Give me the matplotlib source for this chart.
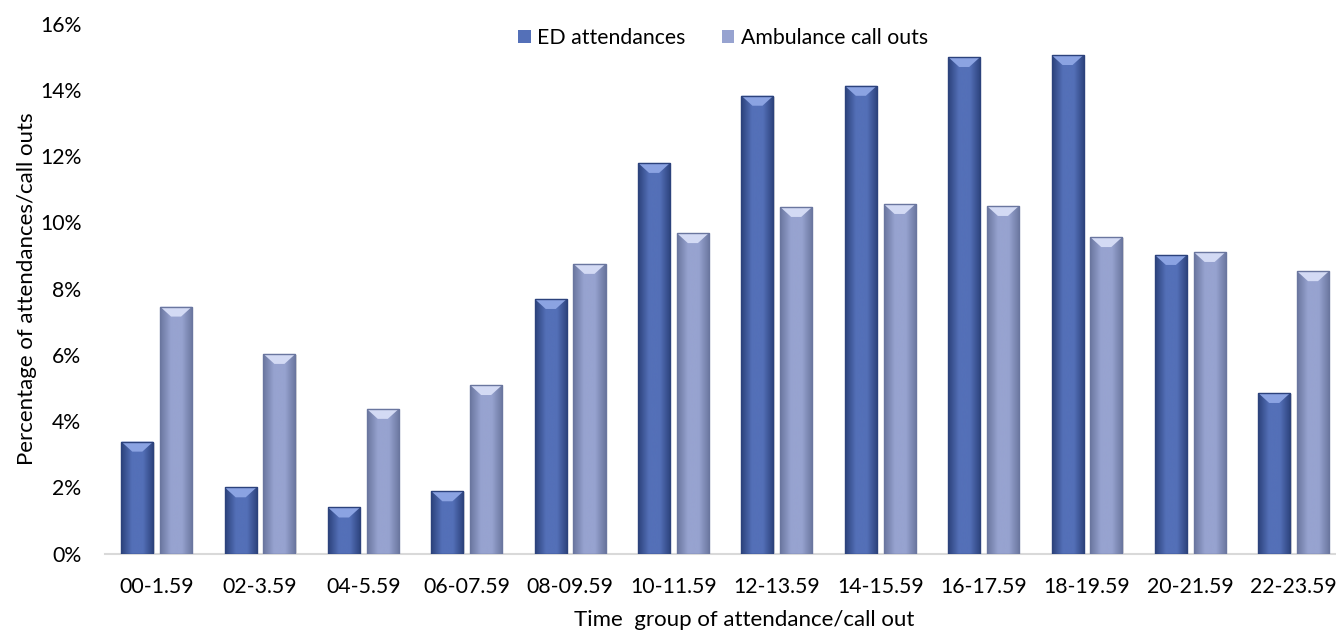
import numpy as np
import matplotlib
matplotlib.use("Agg")
import matplotlib.pyplot as plt
from matplotlib.patches import Polygon
from matplotlib.colors import LinearSegmentedColormap
from matplotlib.ticker import FuncFormatter

plt.rcParams['font.family'] = ['Lato', 'DejaVu Sans']

time_groups = ["00-1.59", "02-3.59", "04-5.59", "06-07.59", "08-09.59", "10-11.59",
               "12-13.59", "14-15.59", "16-17.59", "18-19.59", "20-21.59", "22-23.59"]
ed_attendances = [3.38, 2.00, 1.39, 1.88, 7.69, 11.80, 13.83, 14.13, 15.00, 15.06, 9.02, 4.85]
ambulance_callouts = [7.46, 6.03, 4.37, 5.09, 8.75, 9.68, 10.47, 10.56, 10.50, 9.56, 9.11, 8.53]

fig = plt.figure(figsize=(13.36, 6.32), dpi=100)
ax = fig.add_axes([0.0786, 0.1242, 0.9214, 0.838])

x = np.arange(len(time_groups))
w = 0.31
off = 0.1875
fs = 15.3

# (edge, centre, bevel) colours for each series
ed_cols = ("#2c427c", "#5470b8", "#8ba3e2")
amb_cols = ("#6a769f", "#97a3d0", "#d3daf4")

bars_ed = ax.bar(x - off, ed_attendances, w, color=ed_cols[1], label="ED attendances", zorder=2)
bars_amb = ax.bar(x + off, ambulance_callouts, w, color=amb_cols[1], label="Ambulance call outs", zorder=2)

ax.set_xlim(-0.5, 11.41)
ax.set_ylim(0, 16)


def shade(bars, cols):
    edge, mid, light = cols
    cmap = LinearSegmentedColormap.from_list("b", [edge, mid, mid, edge])
    grad = np.linspace(0, 1, 64).reshape(1, -1)
    bx = w * 11 / 32         # bevel inset, ~11 px of a 32 px bar
    by = 10 / 33.1           # bevel depth in data units
    for b in bars:
        x0, h, bw = b.get_x(), b.get_height(), b.get_width()
        # soft drop shadow
        ax.add_patch(plt.Rectangle((x0 + 0.012, 0), bw, h - 0.03, color="#c8c8c8",
                                   alpha=0.6, zorder=1, lw=0))
        im = ax.imshow(grad, cmap=cmap, aspect="auto", extent=(x0, x0 + bw, 0, h),
                       zorder=3, interpolation="bicubic")
        im.set_clip_path(b)
        d = min(by, h / 2)
        top = Polygon([(x0, h), (x0 + bw, h), (x0 + bw - bx, h - d), (x0 + bx, h - d)],
                      closed=True, color=light, lw=0, zorder=4)
        ax.add_patch(top)
        ax.add_patch(plt.Rectangle((x0, 0), bw, h, fill=False, ec=edge, lw=1.0, zorder=5))


shade(bars_ed, ed_cols)
shade(bars_amb, amb_cols)

ax.set_xticks(x)
ax.set_xticklabels(time_groups)
ax.set_yticks(np.arange(0, 17, 2))
ax.yaxis.set_major_formatter(FuncFormatter(lambda v, p: f"{v:.0f}%"))
ax.tick_params(axis="both", length=0, labelsize=fs, colors="black")
ax.tick_params(axis="x", pad=17)
ax.tick_params(axis="y", pad=17)

for s in ("top", "right", "left"):
    ax.spines[s].set_visible(False)
ax.spines["bottom"].set_color("#d9d9d9")
ax.spines["bottom"].set_linewidth(1.5)

ax.set_ylabel("Percentage of attendances/call outs", fontsize=16, labelpad=2)
ax.set_xlabel("Time  group of attendance/call out", fontsize=16)
ax.xaxis.set_label_coords(0.519, -0.106)

leg = ax.legend(loc="center", bbox_to_anchor=(0.502, 0.973), ncol=2, frameon=False,
                fontsize=fs, handlelength=0.6, handleheight=0.6, handletextpad=0.3,
                columnspacing=1.7)

fig.savefig("out.png", dpi=100)
